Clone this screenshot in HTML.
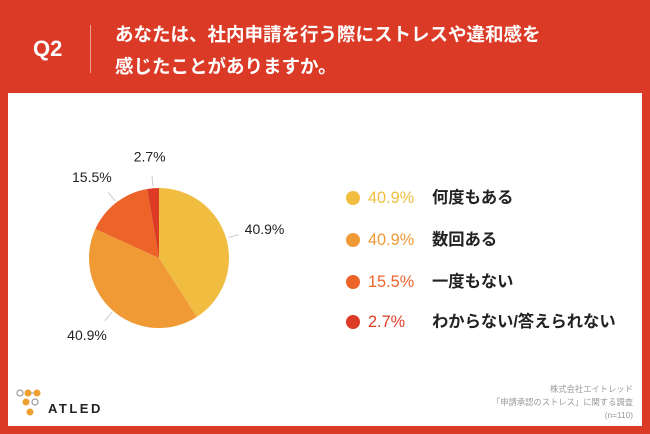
<!DOCTYPE html>
<html><head><meta charset="utf-8"><style>
body{margin:0;width:650px;height:434px;background:#DB3A27;position:relative;overflow:hidden;font-family:"Liberation Sans","Noto Sans CJK JP",sans-serif}
.panel{position:absolute;left:8px;top:93px;width:634px;height:333px;background:#fff}
.q{position:absolute;left:33px;top:36px;color:#fff;font-size:22px;font-weight:bold}
.div{position:absolute;left:90px;top:25px;width:1px;height:48px;background:#f0a090}
.title{position:absolute;left:115px;top:19px;color:#fff;font-size:18.5px;font-weight:bold;line-height:32px;white-space:nowrap}
.leg{position:absolute;left:346px;font-size:16.3px;font-weight:bold;color:#222;height:20px;line-height:20px}
.leg .dot{position:absolute;left:0;top:3px;width:14px;height:14px;border-radius:50%}
.leg .pct{position:absolute;left:22px;font-weight:normal}
.leg .lab{position:absolute;left:86px;white-space:nowrap}
.credit{position:absolute;right:17px;top:383px;font-size:8.3px;color:#999;text-align:right;line-height:13px;white-space:nowrap}
.logo{position:absolute;left:48px;top:401px;font-size:13px;font-weight:bold;letter-spacing:2.5px;color:#222}
</style></head><body>
<div class="q">Q2</div>
<div class="div"></div>
<div class="title">あなたは、社内申請を行う際にストレスや違和感を<br>感じたことがありますか。</div>
<div class="panel"></div>
<svg id="pie" width="650" height="434" style="position:absolute;left:0;top:0"></svg>
<div class="leg" style="top:188px"><span class="dot" style="background:#F0BD40"></span><span class="pct" style="color:#F0BD40">40.9%</span><span class="lab">何度もある</span></div>
<div class="leg" style="top:230px"><span class="dot" style="background:#F09A35"></span><span class="pct" style="color:#F09A35">40.9%</span><span class="lab">数回ある</span></div>
<div class="leg" style="top:272px"><span class="dot" style="background:#EC6428"></span><span class="pct" style="color:#EC6428">15.5%</span><span class="lab">一度もない</span></div>
<div class="leg" style="top:312px"><span class="dot" style="background:#DC3C26"></span><span class="pct" style="color:#DC3C26">2.7%</span><span class="lab">わからない/答えられない</span></div>
<svg width="40" height="36" style="position:absolute;left:16px;top:388px">
<circle cx="4" cy="5" r="3" fill="none" stroke="#999" stroke-width="1.2"/><circle cx="12" cy="5" r="3.5" fill="#F0A030"/><circle cx="21" cy="5" r="3.5" fill="#F0A030"/><line x1="15" y1="5" x2="18" y2="5" stroke="#999"/>
<circle cx="10" cy="14" r="3.5" fill="#F0A030"/><circle cx="19" cy="14" r="3" fill="none" stroke="#999" stroke-width="1.2"/><circle cx="14" cy="24" r="3.5" fill="#F0A030"/></svg>
<div class="logo">ATLED</div>
<div class="credit">株式会社エイトレッド<br>「申請承認のストレス」に関する調査<br>(n=110)</div>
<script>
const categories=["何度もある","数回ある","一度もない","わからない/答えられない"];
const values=[40.9,40.9,15.5,2.7];
const labels=["40.9%","40.9%","15.5%","2.7%"];
const colors=["#F0BD40","#F09A35","#EC6428","#DC3C26"];
const svg=document.getElementById('pie');const NS="http://www.w3.org/2000/svg";
const cx=159,cy=258,r=70;const total=values.reduce((a,b)=>a+b,0);
let a0=0;
values.forEach((v,i)=>{
 const a1=a0+v/total*Math.PI*2;
 const p=t=>[cx+r*Math.sin(t),cy-r*Math.cos(t)];
 const [x0,y0]=p(a0),[x1,y1]=p(a1);
 const path=document.createElementNS(NS,'path');
 path.setAttribute('d',`M${cx},${cy}L${x0},${y0}A${r},${r} 0 ${a1-a0>Math.PI?1:0} 1 ${x1},${y1}Z`);
 path.setAttribute('fill',colors[i]);
 
 
 svg.appendChild(path);
 const m=(a0+a1)/2;
 const lx0=cx+(r+2)*Math.sin(m),ly0=cy-(r+2)*Math.cos(m);
 const lx1=cx+(r+13)*Math.sin(m),ly1=cy-(r+13)*Math.cos(m);
 const ln=document.createElementNS(NS,'line');
 ln.setAttribute('x1',lx0);ln.setAttribute('y1',ly0);ln.setAttribute('x2',lx1);ln.setAttribute('y2',ly1);
 ln.setAttribute('stroke','#ccc');
 
 
 svg.appendChild(ln);
 const tx=cx+(r+40)*Math.sin(m),ty=cy-(r+32)*Math.cos(m);
 const t=document.createElementNS(NS,'text');
 t.setAttribute('x',tx);t.setAttribute('y',ty+5);t.setAttribute('text-anchor','middle');
 t.setAttribute('font-size','14');t.setAttribute('fill','#222');
 t.setAttribute('font-family','Liberation Sans, sans-serif');
 t.textContent=labels[i];
 
 
 svg.appendChild(t);
 a0=a1;
});
</script>
</body></html>
